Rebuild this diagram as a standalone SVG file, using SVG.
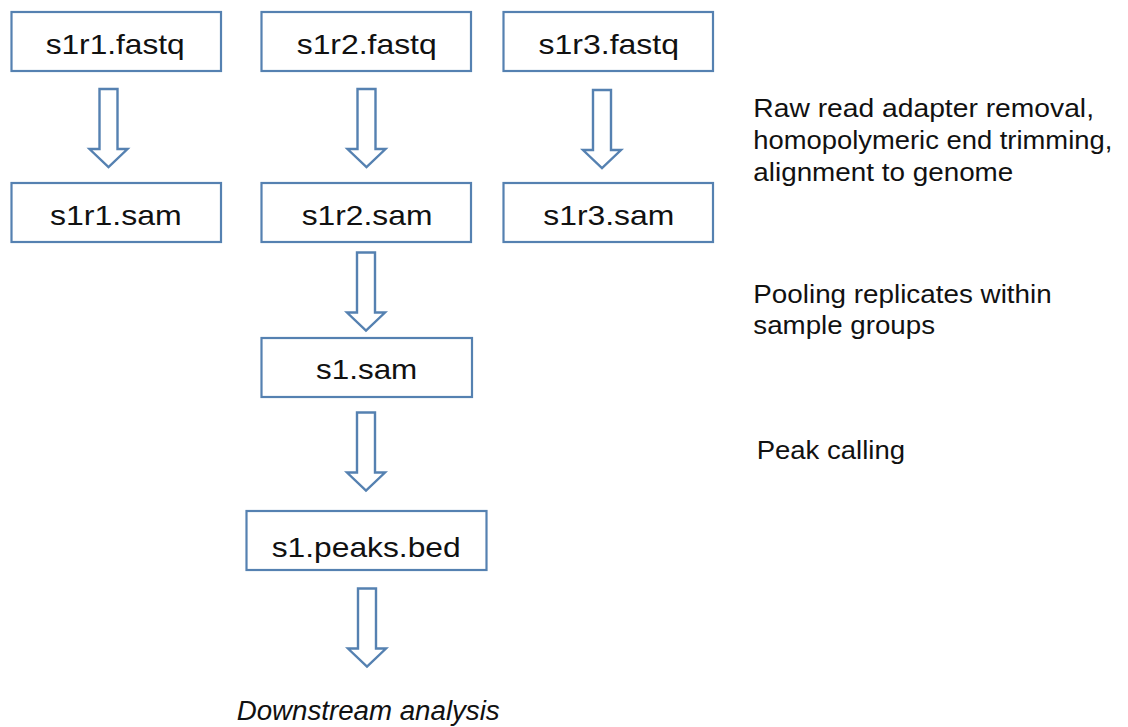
<svg xmlns="http://www.w3.org/2000/svg" width="1128" height="727" viewBox="0 0 1128 727">
  <style>
    .box { fill: #ffffff; stroke: #5581b1; stroke-width: 2.2; }
    .flow { fill: #ffffff; stroke: #5581b1; stroke-width: 2.4; stroke-linejoin: miter; }
    .lbl { font-family: "Liberation Sans", Arial, sans-serif; font-size: 28px; fill: #111111; }
    .note { font-family: "Liberation Sans", Arial, sans-serif; font-size: 26px; fill: #111111; }
    .end { font-style: italic; font-size: 27px; }
  </style>
  <defs>
    <!-- hollow block arrow, 78 px long, origin at top centre of the shaft -->
    <path id="blockArrow" d="M -9 0 L 9 0 L 9 60 L 19 60 L 0 78 L -19 60 L -9 60 Z"/>
  </defs>

  <rect width="1128" height="727" fill="#ffffff"/>

  <!-- connectors -->
  <g id="connectors">
    <use href="#blockArrow" class="flow" x="108.5" y="89"/>
    <use href="#blockArrow" class="flow" x="366.5" y="89"/>
    <use href="#blockArrow" class="flow" x="602" y="90"/>
    <use href="#blockArrow" class="flow" x="366" y="252.5"/>
    <use href="#blockArrow" class="flow" x="366" y="412.5"/>
    <use href="#blockArrow" class="flow" x="367" y="588.5"/>
  </g>

  <!-- raw reads -->
  <g id="s1r1-fastq">
    <rect class="box" x="11.5" y="12" width="209.5" height="59"/>
    <text class="lbl" x="45.7" y="53.5" textLength="139" lengthAdjust="spacingAndGlyphs">s1r1.fastq</text>
  </g>
  <g id="s1r2-fastq">
    <rect class="box" x="261.5" y="12" width="209.5" height="59"/>
    <text class="lbl" x="296.7" y="53.5" textLength="140" lengthAdjust="spacingAndGlyphs">s1r2.fastq</text>
  </g>
  <g id="s1r3-fastq">
    <rect class="box" x="503.5" y="12" width="209.5" height="59"/>
    <text class="lbl" x="538.5" y="53.5" textLength="140.5" lengthAdjust="spacingAndGlyphs">s1r3.fastq</text>
  </g>

  <!-- aligned reads -->
  <g id="s1r1-sam">
    <rect class="box" x="11.5" y="183" width="209.5" height="59"/>
    <text class="lbl" x="50" y="224.5" textLength="131.7" lengthAdjust="spacingAndGlyphs">s1r1.sam</text>
  </g>
  <g id="s1r2-sam">
    <rect class="box" x="261.5" y="183" width="209.5" height="59"/>
    <text class="lbl" x="301.7" y="224.5" textLength="130.7" lengthAdjust="spacingAndGlyphs">s1r2.sam</text>
  </g>
  <g id="s1r3-sam">
    <rect class="box" x="503.5" y="183" width="209.5" height="59"/>
    <text class="lbl" x="543.3" y="224.5" textLength="131" lengthAdjust="spacingAndGlyphs">s1r3.sam</text>
  </g>

  <!-- pooled sample -->
  <g id="s1-sam">
    <rect class="box" x="261.5" y="338" width="210.5" height="59"/>
    <text class="lbl" x="316" y="378.5" textLength="101.3" lengthAdjust="spacingAndGlyphs">s1.sam</text>
  </g>

  <!-- called peaks -->
  <g id="s1-peaks-bed">
    <rect class="box" x="246.5" y="511" width="240" height="59"/>
    <text class="lbl" x="271.7" y="557" textLength="189" lengthAdjust="spacingAndGlyphs">s1.peaks.bed</text>
  </g>

  <g id="downstream">
    <text class="lbl end" x="236.7" y="720" textLength="263" lengthAdjust="spacingAndGlyphs">Downstream analysis</text>
  </g>

  <!-- step descriptions -->
  <g id="step-align">
    <text class="note" x="753.3" y="117" textLength="340.7" lengthAdjust="spacingAndGlyphs">Raw read adapter removal,</text>
    <text class="note" x="753.3" y="149" textLength="359" lengthAdjust="spacingAndGlyphs">homopolymeric end trimming,</text>
    <text class="note" x="753.3" y="180.5" textLength="260" lengthAdjust="spacingAndGlyphs">alignment to genome</text>
  </g>
  <g id="step-pool">
    <text class="note" x="753.3" y="303" textLength="298.4" lengthAdjust="spacingAndGlyphs">Pooling replicates within</text>
    <text class="note" x="753.3" y="334" textLength="181.7" lengthAdjust="spacingAndGlyphs">sample groups</text>
  </g>
  <g id="step-peaks">
    <text class="note" x="756.7" y="459" textLength="148.3" lengthAdjust="spacingAndGlyphs">Peak calling</text>
  </g>
</svg>
